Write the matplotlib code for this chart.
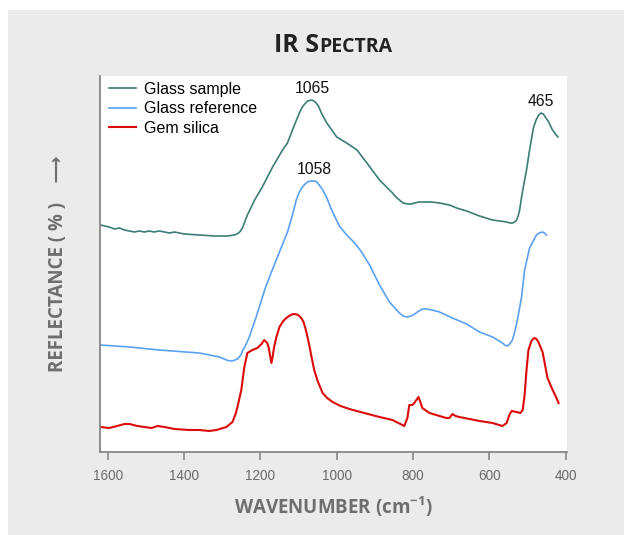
import numpy as np
import matplotlib.pyplot as plt
from matplotlib.patches import Rectangle

# IR reflectance spectra (arbitrary units, curves offset for clarity)
wn_sample = [1619, 1596, 1582, 1569, 1556, 1543, 1530, 1517, 1504, 1491, 1478, 1465,
             1451, 1438, 1425, 1399, 1360, 1320, 1286, 1268, 1262, 1257, 1252, 1247,
             1241, 1234, 1215, 1195, 1168, 1142, 1129, 1116, 1098, 1090, 1084, 1076,
             1065, 1056, 1048, 1039, 1026, 1000, 974, 947, 921, 888, 854, 845, 836,
             826, 815, 805, 796, 785, 775, 752, 731, 705, 686, 660, 626, 592, 555,
             546, 540, 534, 529, 525, 521, 516, 508, 503, 495, 485, 478, 471, 465,
             459, 452, 445, 435, 421]
r_sample = [227, 225, 223, 224, 222, 221, 220, 221, 220, 221, 220, 221,
            220, 219, 220, 218, 217, 216, 216, 217, 218, 219, 221, 224,
            230, 237, 252, 265, 285, 302, 309, 322, 339, 345, 348, 351,
            352, 350, 346, 338, 329, 315, 309, 302, 289, 272, 259, 255, 252,
            249, 248, 248, 249, 250, 250, 250, 249, 247, 244, 241, 236, 232, 230,
            229, 229, 230, 232, 236, 242, 255, 272, 282, 302, 324, 332, 337, 339,
            338, 334, 330, 322, 315]

wn_ref = [1619, 1543, 1465, 1360, 1307, 1295, 1285, 1275, 1266, 1260, 1255, 1250,
          1246, 1242, 1229, 1211, 1197, 1187, 1171, 1150, 1129, 1116, 1106, 1098,
          1090, 1083, 1077, 1068, 1058, 1052, 1048, 1040, 1034, 1027, 1011, 993,
          974, 953, 935, 914, 888, 862, 836, 826, 815, 805, 796, 785, 775, 765,
          750, 731, 697, 660, 626, 592, 566, 560, 553, 547, 540, 534, 527, 516,
          508, 495, 477, 470, 461, 456, 451]
r_ref = [107, 105, 102, 99, 95, 93, 91.5, 91, 92, 93, 95, 98,
         102, 104, 115, 135, 152, 164, 180, 200, 220, 237, 252, 260,
         265, 268, 270, 271, 271, 270, 268, 264, 260, 255, 240, 226,
         217, 209, 200, 187, 167, 150, 139, 136, 135, 136, 138, 141, 143, 143,
         142, 140, 134, 128, 120, 115, 109, 107, 106, 108, 112, 120, 132, 155,
         182, 204, 217, 219, 220, 219, 217]

wn_gem = [1619, 1596, 1575, 1556, 1543, 1522, 1504, 1485, 1469, 1451, 1425, 1386,
          1360, 1334, 1315, 1289, 1273, 1265, 1260, 1250, 1242, 1234, 1221, 1208,
          1197, 1190, 1182, 1178, 1174, 1171, 1168, 1164, 1158, 1150, 1140, 1132,
          1125, 1118, 1111, 1104, 1098, 1092, 1087, 1083, 1079, 1072, 1066, 1059,
          1050, 1037, 1025, 1011, 990, 967, 928, 888, 854, 823, 815, 810, 802,
          797, 786, 781, 776, 757, 731, 713, 705, 697, 689, 679, 626, 592, 566,
          555, 548, 542, 529, 519, 513, 508, 503, 498, 490, 486, 482, 477, 472,
          461, 453, 448, 437, 427, 419]
r_gem = [25, 24, 26, 28, 28, 26, 25, 24, 26, 25, 23, 22,
         22, 21, 22, 25, 30, 38, 45, 62, 85, 99, 102, 104,
         108, 112, 109, 104, 95, 89, 95, 105, 115, 125, 131, 134,
         136, 137.5, 138, 137.5, 136, 133.5, 130, 125, 119, 107, 95, 82,
         71, 59, 54, 50, 46, 43, 39, 35, 32, 26, 34, 47, 47,
         49, 55, 50, 44, 39, 36, 34, 34, 38, 36, 35, 31, 29, 26,
         29, 37, 41, 40, 39, 42, 57, 82, 102, 111, 113, 114, 113, 110,
         100, 84, 74, 64, 56, 49]

peak_labels = [(1065, 352, "1065"), (1058, 271, "1058"), (465, 339, "465")]
xticks = [1600, 1400, 1200, 1000, 800, 600, 400]

fig = plt.figure(figsize=(6.24, 5.35), dpi=100)
fig.patch.set_facecolor("white")
fig.add_artist(Rectangle((8 / 624, 0), 1, (535 - 10) / 535, transform=fig.transFigure,
                         facecolor="#ebebeb", edgecolor="none", zorder=0))

ax = fig.add_axes([100 / 624, (535 - 452) / 535, 467 / 624, 376 / 535])
ax.set_facecolor("white")

ax.plot(wn_sample, r_sample, color="#3c7d76", lw=1.2, label="Glass sample")
ax.plot(wn_ref, r_ref, color="#5ba1f2", lw=1.2, label="Glass reference")
ax.plot(wn_gem, r_gem, color="#dc0a0a", lw=1.5, label="Gem silica")

for x, y, s in peak_labels:
    ax.annotate(s, (x, y), xytext=(0, 3), textcoords="offset points",
                ha="center", va="bottom", fontsize=11.3, family="Liberation Sans",
                color="#111111")

ax.set_xlim(1620, 397)
ax.set_ylim(0, 376)
ax.set_xticks(xticks)
ax.set_yticks([])
for s in ["top", "right"]:
    ax.spines[s].set_visible(False)
for s in ["left", "bottom"]:
    ax.spines[s].set_color("#888888")
    ax.spines[s].set_linewidth(1.3)
ax.tick_params(axis="x", direction="out", length=6, width=1.2, color="#888888",
               labelcolor="#6a6a6a", labelsize=9.8, pad=6)
for t in ax.get_xticklabels():
    t.set_family("Liberation Sans")

leg = ax.legend(loc="upper left", bbox_to_anchor=(0.02, 0.984), frameon=False,
                borderaxespad=0, borderpad=0, handlelength=1.7, handletextpad=0.45,
                labelspacing=0.27, prop={"family": "Liberation Sans", "size": 11.5})

lab_font = ["Open Sans", "DejaVu Sans"]
fig.text(333 / 624, (535 - 507) / 535, r"WAVENUMBER (cm$^{\mathregular{-1}}$)",
         ha="center", va="center", fontsize=13.5, fontweight="bold", color="#6e6e6e",
         family=lab_font)
fig.text(58 / 624, (535 - 264) / 535, "REFLECTANCE ( % )    \u27f6", rotation=90,
         ha="center", va="center", fontsize=13.5, fontweight="bold", color="#6e6e6e",
         family=lab_font)

# small-caps title: large initials + smaller caps, centred over the plot
t1 = fig.text(0, (535 - 52) / 535, "IR S", ha="left", va="baseline", fontsize=18,
              fontweight="bold", color="#222222", family="Open Sans")
t2 = fig.text(0, (535 - 52) / 535, "PECTRA", ha="left", va="baseline", fontsize=14,
              fontweight="bold", color="#222222", family="Open Sans")
fig.canvas.draw()
r = fig.canvas.get_renderer()
w1 = t1.get_window_extent(r).width
w2 = t2.get_window_extent(r).width
x0 = 333 - (w1 + w2) / 2
t1.set_x(x0 / 624)
t2.set_x((x0 + w1) / 624)

fig.savefig("out.png", dpi=100)
